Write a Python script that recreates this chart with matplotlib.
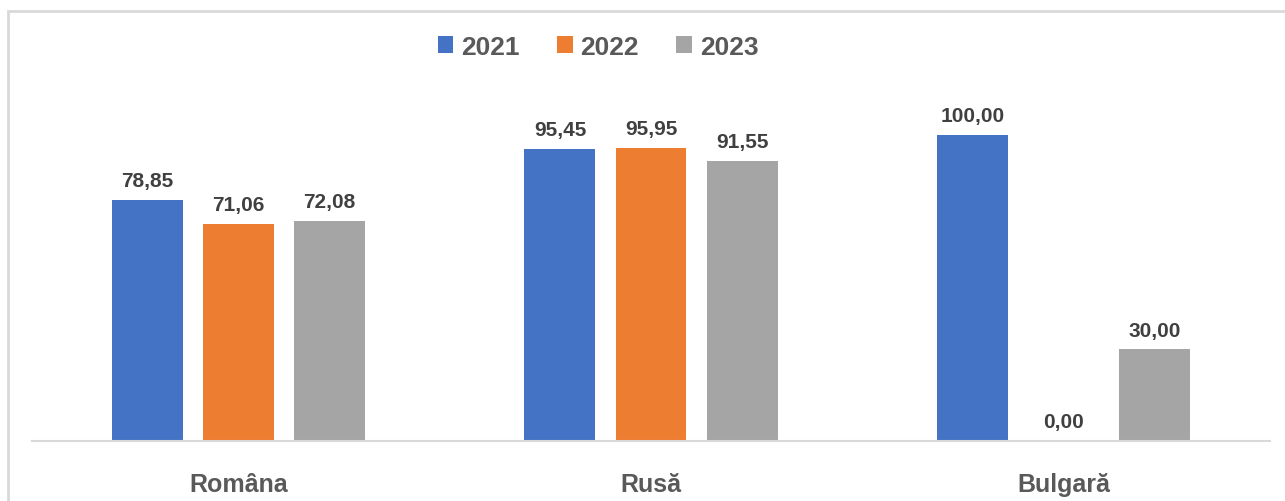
import matplotlib.pyplot as plt
import numpy as np
from matplotlib import font_manager
from matplotlib.patches import Patch, Rectangle

categories = ["Romȃna", "Rusă", "Bulgară"]
years = ["2021", "2022", "2023"]
values_2021 = [78.85, 95.45, 100.00]
values_2022 = [71.06, 95.95, 0.00]
values_2023 = [72.08, 91.55, 30.00]
colors = ["#4472C4", "#ED7D31", "#A5A5A5"]

names = {f.name for f in font_manager.fontManager.ttflist}
family = ["Liberation Sans Narrow", "Liberation Sans", "DejaVu Sans"]
family = [f for f in family if f in names] or ["DejaVu Sans"]
plt.rcParams["font.family"] = family

W, H = 1285, 502
fig = plt.figure(figsize=(W / 100, H / 100), dpi=100)

# chart border (cropped on right and bottom)
fig.patches.append(Rectangle((8 / W, -0.05), 1.2, 1 - 12 / H + 0.05,
                             transform=fig.transFigure, fill=False,
                             edgecolor="#D9D9D9", linewidth=2))

ax = fig.add_axes([32 / W, 60 / H, 1238 / W, 367 / H])
ax.set_xlim(-0.5, 2.5)
ax.set_ylim(0, 120)

x = np.arange(len(categories))
width = 0.172
step = 0.2206
series = [values_2021, values_2022, values_2023]
for i, (vals, col) in enumerate(zip(series, colors)):
    pos = x + (i - 1) * step
    ax.bar(pos, vals, width=width, color=col, zorder=2)
    for px, v in zip(pos, vals):
        ax.annotate(f"{v:.2f}".replace(".", ","), (px, v),
                    xytext=(0, 7), textcoords="offset points",
                    ha="center", va="bottom", fontsize=15,
                    fontweight="bold", color="#404040")

for s in ["top", "right", "left"]:
    ax.spines[s].set_visible(False)
ax.spines["bottom"].set_color("#D9D9D9")
ax.spines["bottom"].set_linewidth(1.5)
ax.set_yticks([])
ax.set_xticks(x)
ax.set_xticklabels(categories, fontsize=18, fontweight="bold", color="#595959")
ax.tick_params(axis="x", length=0, pad=22)

handles = [Patch(facecolor=c, edgecolor="none") for c in colors]
fig.legend(handles, years, loc="center", bbox_to_anchor=(598 / W, 1 - 48 / H),
           ncol=3, frameon=False, handlelength=0.6, handleheight=0.6,
           handletextpad=0.3, columnspacing=1.4,
           prop={"size": 19, "weight": "bold"}, labelcolor="#595959")

fig.savefig("out.png", dpi=100)
